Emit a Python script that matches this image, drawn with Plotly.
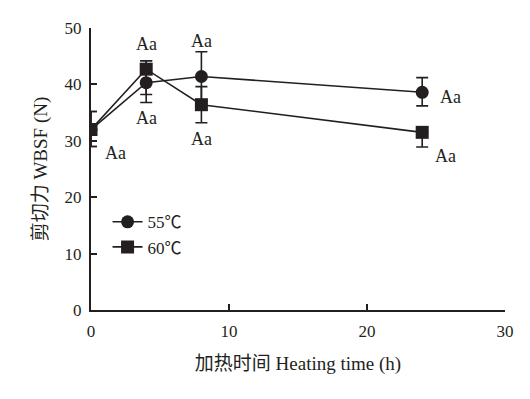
import plotly.graph_objects as go

hours = [0, 4, 8, 24]
wbsf_55 = [32.0, 40.3, 41.4, 38.6]
wbsf_60 = [32.0, 42.7, 36.4, 31.5]
err55_plus = [3.2, 3.9, 4.4, 2.6]
err55_minus = [3.0, 3.5, 4.4, 2.4]
err60_plus = [3.2, 1.5, 3.2, 0.0]
err60_minus = [3.0, 4.5, 3.2, 2.6]
letters = ["Aa", "Aa", "Aa", "Aa"]
series_names = ["55℃", "60℃"]

INK = "#231f20"
SERIF = "Liberation Serif, Times New Roman, Noto Sans CJK SC, serif"

fig = go.Figure()
fig.add_trace(go.Scatter(
    x=hours, y=wbsf_55, name=series_names[0], mode="lines+markers",
    line=dict(color=INK, width=1.6),
    marker=dict(symbol="circle", size=13, color=INK),
    error_y=dict(type="data", symmetric=False, array=err55_plus, arrayminus=err55_minus,
                 color=INK, thickness=1.6, width=6),
))
fig.add_trace(go.Scatter(
    x=hours, y=wbsf_60, name=series_names[1], mode="lines+markers",
    line=dict(color=INK, width=1.6),
    marker=dict(symbol="square", size=13, color=INK),
    error_y=dict(type="data", symmetric=False, array=err60_plus, arrayminus=err60_minus,
                 color=INK, thickness=1.6, width=6),
))

# letter labels: (series index, point index, xshift, yshift)
label_specs = [
    (1, 0, 24, -23),
    (1, 1, 0, 25),
    (0, 1, 0, -35),
    (0, 2, 0, 36),
    (1, 2, 0, -34),
    (0, 3, 28, -5),
    (1, 3, 23, -24),
]
series_vals = [wbsf_55, wbsf_60]
for s, i, dx, dy in label_specs:
    fig.add_annotation(x=hours[i], y=series_vals[s][i], text=letters[i % len(letters)],
                       showarrow=False, xshift=dx, yshift=dy,
                       font=dict(family=SERIF, size=18, color=INK))

tickfont = dict(family=SERIF, size=17, color=INK)
fig.update_layout(
    width=522, height=391,
    margin=dict(l=83, r=25, t=20, b=89, autoexpand=False),
    paper_bgcolor="white", plot_bgcolor="white",
    font=dict(family=SERIF, size=17, color=INK),
    showlegend=True,
    legend=dict(x=0.04, y=0.375, xanchor="left", yanchor="top",
                bgcolor="rgba(0,0,0,0)", font=dict(family=SERIF, size=17, color=INK),
                itemwidth=30, tracegroupgap=0),
)
fig.update_xaxes(
    range=[0, 30], tickvals=[0, 10, 20, 30], ticks="inside", ticklen=6, tickwidth=2,
    tickcolor=INK, showline=True, linecolor=INK, linewidth=2, showgrid=False, zeroline=False,
    ticklabelstandoff=5, tickfont=tickfont, automargin=False,
    title=dict(text="加热时间 Heating time (h)", standoff=16,
               font=dict(family=SERIF, size=19, color=INK)),
)
fig.update_yaxes(
    range=[0, 50], tickvals=[0, 10, 20, 30, 40, 50], ticks="inside", ticklen=6, tickwidth=2,
    tickcolor=INK, showline=True, linecolor=INK, linewidth=2, showgrid=False, zeroline=False,
    ticklabelstandoff=4, tickfont=tickfont, automargin=False,
    title=dict(text="剪切力 WBSF (N)", standoff=12,
               font=dict(family=SERIF, size=19, color=INK)),
)

fig.write_html("out.html")
